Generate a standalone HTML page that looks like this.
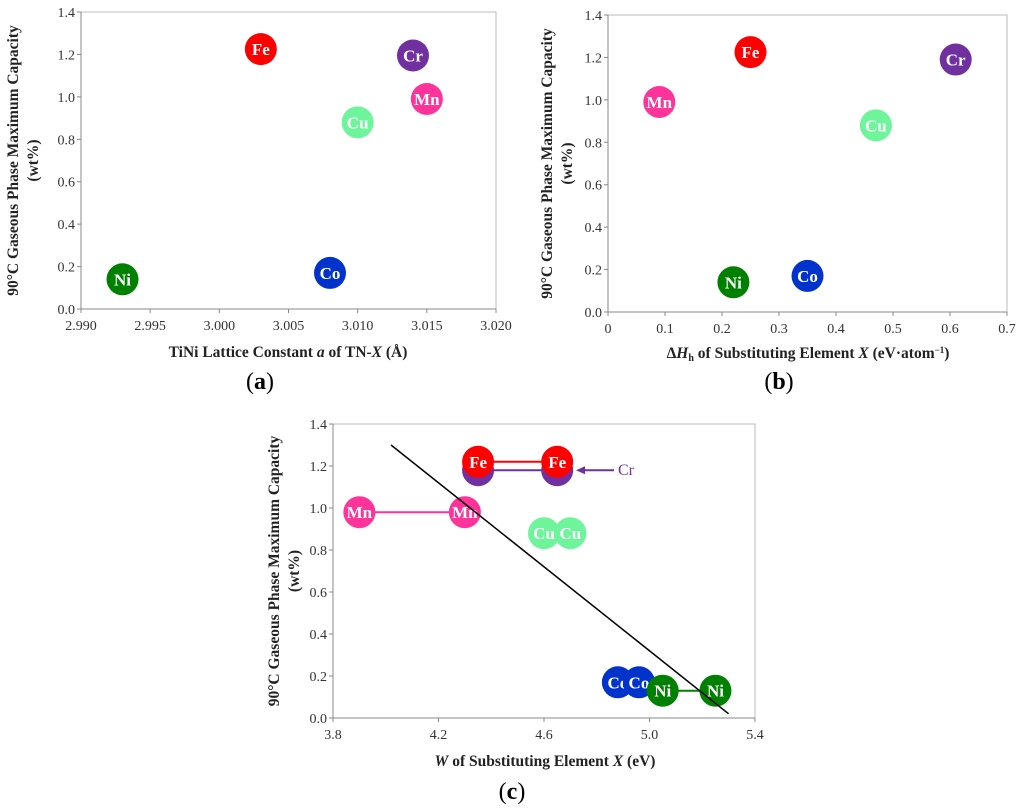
<!DOCTYPE html>
<html><head><meta charset="utf-8"><style>
body{margin:0;background:#fff;}
svg{display:block;font-family:"Liberation Serif","DejaVu Serif",serif;}
.tick{font-size:14px;fill:#333;}
.ttl{font-size:15.5px;font-weight:bold;fill:#222;}
.cap{font-size:24px;fill:#000;}
.lbl{font-size:17px;font-weight:bold;fill:#fff;}
</style></head><body>
<svg id="chart" width="1024" height="811" viewBox="0 0 1024 811"></svg>
<script>
const elements=["Ni","Fe","Cr","Mn","Cu","Co"];
const colors={Fe:"#ff0000",Cr:"#7030a0",Mn:"#ff3399",Cu:"#6ef59c",Co:"#0033cc",Ni:"#008000"};
const aX=[2.993,3.003,3.014,3.015,3.010,3.008];
const aY=[0.14,1.225,1.195,0.99,0.88,0.17];
const bX=[0.22,0.25,0.61,0.09,0.47,0.35];
const bY=[0.14,1.225,1.19,0.99,0.88,0.17];
const cElems=["Cr","Fe","Mn","Cu","Co","Ni"];
const cX1=[4.35,4.35,3.9,4.6,4.88,5.05];
const cX2=[4.65,4.65,4.3,4.7,4.96,5.25];
const cY=[1.18,1.22,0.98,0.88,0.17,0.13];
const fitX=[4.02,5.30];
const fitY=[1.30,0.02];
const yTicks=[0,0.2,0.4,0.6,0.8,1.0,1.2,1.4];
const aTicks=[2.990,2.995,3.000,3.005,3.010,3.015,3.020];
const bTicks=[0,0.1,0.2,0.3,0.4,0.5,0.6,0.7];
const cTicks=[3.8,4.2,4.6,5.0,5.4];
const NS="http://www.w3.org/2000/svg";
const svg=document.getElementById('chart');
function mk(t,a,p){const e=document.createElementNS(NS,t);for(const k in a)e.setAttribute(k,a[k]);(p||svg).appendChild(e);return e;}
function panel(name,x0,x1,y0,y1,xmin,xmax,xt,xdec,ytitleX){
 const g=mk('g',{});
 
 
 const sx=v=>x0+(v-xmin)/(xmax-xmin)*(x1-x0);
 const sy=v=>y1-(v/1.4)*(y1-y0);
 const fr=mk('rect',{x:x0,y:y0,width:x1-x0,height:y1-y0,fill:'none',stroke:'#bbb','stroke-width':1},g);
 
 
 mk('line',{x1:x0,y1:y0,x2:x0,y2:y1,stroke:'#888'},g);
 mk('line',{x1:x0,y1:y1,x2:x1,y2:y1,stroke:'#888'},g);
 yTicks.forEach(v=>{
  mk('line',{x1:x0-4,x2:x0,y1:sy(v),y2:sy(v),stroke:'#888'},g);
  const t=mk('text',{x:x0-6,y:sy(v)+5,'text-anchor':'end',class:'tick'},g);t.textContent=v.toFixed(1);
  
  
 });
 xt.forEach(v=>{
  mk('line',{x1:sx(v),x2:sx(v),y1:y1,y2:y1+4,stroke:'#888'},g);
  const t=mk('text',{x:sx(v),y:y1+21,'text-anchor':'middle',class:'tick'},g);t.textContent=v===0?'0':v.toFixed(xdec);
  
  
 });
 const cy=(y0+y1)/2;
 const t1=mk('text',{x:ytitleX,y:cy,'text-anchor':'middle',class:'ttl',transform:`rotate(-90 ${ytitleX} ${cy})`},g);
 t1.textContent='90°C Gaseous Phase Maximum Capacity';
 
 
 const t2=mk('text',{x:ytitleX+20,y:cy,'text-anchor':'middle',class:'ttl',transform:`rotate(-90 ${ytitleX+20} ${cy})`},g);
 t2.textContent='(wt%)';
 
 
 return {g,sx,sy};
}
function dot(g,x,y,el){
 const c=mk('circle',{cx:x,cy:y,r:16,fill:colors[el]},g);
 
 
 const t=mk('text',{x:x,y:y+6,'text-anchor':'middle',class:'lbl'},g);t.textContent=el;
 
 
}
function text(x,y,cls,html,name){const t=mk('text',{x:x,y:y,'text-anchor':'middle',class:cls});t.innerHTML=html;
 
 return t;}
const A=panel('panel-a',81,496,12,309,2.990,3.020,aTicks,3,18);
elements.forEach((e,i)=>dot(A.g,A.sx(aX[i]),A.sy(aY[i]),e));
text(288,357,'ttl','TiNi Lattice Constant <tspan font-style="italic">a</tspan> of TN-<tspan font-style="italic">X</tspan> (Å)','x-axis-title-a');
text(260,389,'cap','(<tspan font-weight="bold">a</tspan>)','caption-a');
const B=panel('panel-b',608,1007,15,312,0,0.7,bTicks,1,552);
elements.forEach((e,i)=>dot(B.g,B.sx(bX[i]),B.sy(bY[i]),e));
text(808,358,'ttl','Δ<tspan font-style="italic">H</tspan><tspan font-size="10" dy="3">h</tspan><tspan dy="-3"> of Substituting Element </tspan><tspan font-style="italic">X</tspan> (eV·atom<tspan font-size="9" dy="-5">−1</tspan><tspan dy="5">)</tspan>','x-axis-title-b');
text(779,389,'cap','(<tspan font-weight="bold">b</tspan>)','caption-b');
const C=panel('panel-c',333,755,424,718,3.8,5.4,cTicks,1,279);
cElems.forEach((e,i)=>{
 const l=mk('line',{x1:C.sx(cX1[i]),x2:C.sx(cX2[i]),y1:C.sy(cY[i]),y2:C.sy(cY[i]),stroke:colors[e],'stroke-width':2},C.g);
 
 
});
cElems.forEach((e,i)=>{dot(C.g,C.sx(cX1[i]),C.sy(cY[i]),e);dot(C.g,C.sx(cX2[i]),C.sy(cY[i]),e);});
const fit=mk('line',{x1:C.sx(fitX[0]),y1:C.sy(fitY[0]),x2:C.sx(fitX[1]),y2:C.sy(fitY[1]),stroke:'#000','stroke-width':1.5},C.g);


const ay=C.sy(cY[0]);
const ar=mk('line',{x1:614,y1:ay,x2:582,y2:ay,stroke:'#7030a0','stroke-width':2},C.g);


mk('polygon',{points:`576,${ay} 585,${ay-4} 585,${ay+4}`,fill:'#7030a0'},C.g);
const crt=mk('text',{x:618,y:ay+5,class:'tick',style:'fill:#7030a0;font-size:16px'},C.g);crt.textContent='Cr';


text(545,766,'ttl','<tspan font-style="italic">W</tspan> of Substituting Element <tspan font-style="italic">X</tspan> (eV)','x-axis-title-c');
text(512,799,'cap','(<tspan font-weight="bold">c</tspan>)','caption-c');
</script>
</body></html>
